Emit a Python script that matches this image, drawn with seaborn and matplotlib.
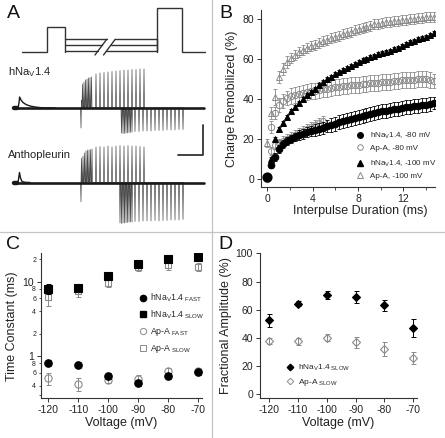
import matplotlib
matplotlib.use('Agg')
import matplotlib.pyplot as plt
from matplotlib.lines import Line2D
from matplotlib.ticker import FixedLocator, FixedFormatter
import seaborn as sns
import pandas as pd

sns.set_theme(style='ticks')
plt.rcParams['font.family'] = ['Liberation Sans', 'DejaVu Sans']
plt.rcParams['mathtext.fontset'] = 'custom'
plt.rcParams['mathtext.rm'] = 'Liberation Sans'
plt.rcParams['mathtext.it'] = 'Liberation Sans:italic'
plt.rcParams['mathtext.bf'] = 'Liberation Sans:bold'
plt.rcParams['axes.unicode_minus'] = False

# ---------------- data ----------------
# A: voltage protocol (panel units) and current traces
prot_main_x = [22, 46.7, 46.7, 65, 65]
prot_main_y = [51.7, 51.7, 26.7, 26.7, 51.5]
prot_levels = [39.3, 45.0, 51.0]
prot_test_x = [156.7, 156.7, 181.7, 181.7, 205]
prot_test_y = [51.0, 8.3, 8.3, 51.7, 51.7]

tr1_base = 108
tr1_start_x = [15, 18, 19, 19.6, 21, 23, 26, 30, 35, 42, 55]
tr1_start_y = [108, 108, 103, 97, 100, 102.5, 104.5, 106, 107, 107.8, 108]
tr1_up_x = [82.5, 84, 85.5, 87, 88.5, 90, 91.5, 96, 100, 104, 108, 112, 116, 120,
            124, 128, 132, 136, 140, 144]
tr1_up_peak = [84, 82, 80, 79, 78, 77.5, 77, 74, 73, 72.5, 72, 71.5, 71, 70.5,
               70, 70, 69.5, 69.5, 69, 69]
tr1_dn_x = [121.5, 123, 124.5, 126, 127.5, 129, 130.5, 132, 135, 139, 143, 147, 151,
            155, 159, 163, 167, 171, 175, 179, 183]
tr1_dn_peak = [133, 133.5, 133.5, 133, 133, 132.5, 132.5, 132, 131.5, 131.5, 131, 131,
               131, 130.5, 130.5, 130.5, 130, 130, 130, 129.5, 129.5]

tr2_base = 182.5
tr2_start_x = [15, 18, 19.5, 20.5, 22, 25, 30]
tr2_start_y = [182.5, 182.5, 172.5, 178, 181.5, 182.3, 182.5]
tr2_up_x = [81.5, 83, 84.5, 86, 87.5, 89, 90.5, 92, 96, 100, 104, 108, 112, 116, 120,
            124, 128, 132, 136, 140, 144]
tr2_up_peak = [158, 156, 153, 151, 150, 150, 149.5, 149, 147, 146.5, 147, 146, 147, 146,
               145.5, 146, 145.5, 146, 146, 146.5, 147]
tr2_dn_x = [120, 121.5, 123, 124.5, 126, 127.5, 129, 130.5, 132, 135, 139, 143, 147, 151,
            155, 159, 163, 167, 171, 175, 179, 183]
tr2_dn_peak = [223, 223.5, 223, 223, 222.5, 222.5, 222, 222, 222, 221.5, 221.5, 221, 221,
               221, 220.5, 221, 220.5, 220.5, 220, 220, 220, 219.5]

# B: charge remobilization vs interpulse duration
t_ms = [0.0, 0.35, 0.7, 1.05, 1.4, 1.75, 2.1, 2.45, 2.8, 3.15, 3.5, 3.85, 4.2, 4.55,
        4.9, 5.25, 5.6, 5.95, 6.3, 6.65, 7.0, 7.35, 7.7, 8.05, 8.4, 8.75, 9.1, 9.45,
        9.8, 10.15, 10.5, 10.85, 11.2, 11.55, 11.9, 12.25, 12.6, 12.95, 13.3, 13.65,
        14.0, 14.35, 14.7]
hna_80 = [1, 7, 11, 15, 17.5, 19, 20, 21, 22, 22.5, 23.5, 24, 24.5, 25, 25.5, 26.5, 27,
          27.5, 28.5, 29, 29.5, 30, 30.5, 31, 31.5, 32, 32.5, 33, 33.5, 34, 34, 34.5,
          35, 35, 35.5, 36, 36, 36.5, 36.5, 37, 37, 37.5, 38]
hna_80_err = [1, 1.5, 2, 2, 2, 2, 2, 2, 2.5, 2.5, 2.5, 2.5, 3, 3, 3, 3, 3.5, 3.5, 3.5,
              3.5, 3.5, 3.5, 3.5, 3.5, 3.5, 3.5, 3.5, 3.5, 3.5, 3.5, 3.5, 3.5, 3.5, 3.5,
              3.5, 3.5, 3.5, 3.5, 3.5, 3.5, 3.5, 3.5, 3]
apa_80 = [0, 26, 33, 37, 39, 40.5, 41.5, 42, 42.5, 43, 43.5, 44, 44, 44.5, 45, 45, 45.5,
          46, 46, 46.5, 46.5, 47, 47, 47, 47.5, 47.5, 48, 48, 48, 48.5, 48.5, 48.5, 49,
          49, 49.5, 49.5, 49.5, 49.5, 50, 50, 50, 49.5, 49]
apa_80_err = [0.5, 3, 3, 3.5, 3.5, 3.5, 4, 4, 4, 4, 4, 4, 4, 4, 4, 4, 4, 4, 4, 4, 4, 4,
              4, 4, 4, 4, 4, 4, 4, 4, 4, 4, 4, 4, 4, 4, 4, 4, 4, 4, 4, 4, 3.5]
hna_100 = [1, 10, 20, 25, 28, 31, 34, 36, 38, 40, 42, 43.5, 45, 47, 48.5, 50, 51, 52.5,
           53.5, 54.5, 55.5, 56.5, 57.5, 58.5, 59.5, 60, 61, 61.5, 62.5, 63, 63.5, 64,
           65, 65.5, 66.5, 67.5, 68.5, 69, 70, 70.5, 71, 72, 73]
hna_100_err = [1] * 43
apa_100 = [18, 33, 41, 51, 55, 58.5, 60.5, 62, 63.5, 64.5, 65.5, 66.5, 67, 68, 69, 69.5,
           70.5, 71, 71.5, 72.5, 73, 73.5, 74.5, 75, 75.5, 76, 76.5, 77.5, 77.5, 78,
           78.5, 78.5, 79, 79, 79.5, 79.5, 80, 80, 80.5, 80.5, 81, 81, 81]
apa_100_err = [2, 3, 4, 3, 3, 3, 2.5, 2.5, 2.5, 2.5, 2.5, 2.5, 2.5, 2.5, 2.5, 2.5, 2.5,
               2.5, 2.5, 2.5, 2.5, 2.5, 2.5, 2.5, 2.5, 2.5, 2.5, 2.5, 2.5, 2.5, 2.5, 2.5,
               2.5, 2.5, 2.5, 2.5, 2.5, 2.5, 2.5, 2.5, 2.5, 2.5, 2.5]
early_t = [0.35, 0.7, 1.05, 1.4, 1.75, 2.1, 2.45, 2.8, 3.15, 3.5, 3.85, 4.2, 4.55, 4.9]
early_grey = [14, 17, 18, 19, 20, 21, 22, 23, 24, 25, 26, 27, 28, 29]
early_grey_err = [2, 2, 2, 2.5, 2.5, 2.5, 2.5, 2.5, 2.5, 2.5, 2.5, 2.5, 2.5, 2.5]

# C and D: voltage dependence
volt = [-120, -110, -100, -90, -80, -70]
hna_fast = [0.81, 0.76, 0.54, 0.44, 0.54, 0.61]
hna_fast_err = [0.07, 0.07, 0.05, 0.04, 0.05, 0.06]
hna_slow = [8.0, 8.2, 11.8, 17.4, 20.4, 21.6]
hna_slow_err = [1.2, 0.7, 1.0, 1.2, 1.5, 1.8]
apa_fast = [0.50, 0.42, 0.47, 0.49, 0.63, 0.62]
apa_fast_err = [0.09, 0.08, 0.04, 0.06, 0.06, 0.07]
apa_slow = [6.2, 7.4, 9.6, 15.6, 17.0, 15.8]
apa_slow_err = [1.5, 1.2, 1.2, 1.5, 2.5, 2.0]

hna_amp = [52.5, 64.3, 70.5, 69, 63, 47]
hna_amp_err = [4.5, 2, 3, 4, 4, 6.5]
apa_amp = [37.6, 37.6, 40, 37, 32, 25.7]
apa_amp_err = [2, 2.5, 2.5, 4, 5, 4.5]

# ---------------- figure ----------------
W, H = 445, 438
fig = plt.figure(figsize=(W / 100, H / 100), dpi=100)
DARK = '#222222'
GREY = '#8a8a8a'


def px_axes(l, t, r, b):
    return fig.add_axes([l / W, 1 - b / H, (r - l) / W, (b - t) / H])


def style_axes(ax):
    sns.despine(ax=ax)
    for s in ['left', 'bottom']:
        ax.spines[s].set_color('#333333')
        ax.spines[s].set_linewidth(0.8)
    ax.tick_params(which='major', direction='out', length=3, width=0.7,
                   color='#333333', labelsize=7.5, labelcolor=DARK, pad=2)
    ax.tick_params(which='minor', direction='out', length=1.8, width=0.6,
                   color='#333333')


def spikes(xs, peaks, base, w=0.5):
    px, py = [], []
    for x, p in zip(xs, peaks):
        px += [x - w, x, x + w]
        py += [base, p, base]
    return px, py


# dividers
fig.add_artist(Line2D([212 / W, 212 / W], [0, 1], color='#c4c4c4', lw=0.9))
fig.add_artist(Line2D([0, 1], [1 - 232 / H, 1 - 232 / H], color='#c4c4c4', lw=0.9))

# ---- Panel A ----
axA = px_axes(0, 0, 212, 232)
axA.set_xlim(0, 212)
axA.set_ylim(232, 0)
axA.axis('off')
pk = dict(color='#333333', lw=1.0, solid_joinstyle='miter')
axA.plot(prot_main_x, prot_main_y, **pk)
axA.plot(prot_test_x, prot_test_y, **pk)
axA.plot([156.7, 156.7], [39.3, 51.7], **pk)
for lv in prot_levels:
    cut1 = 95 + (55 - lv) * 0.745
    axA.plot([65, cut1], [lv, lv], **pk)
    axA.plot([cut1 + 8.5, 156.7], [lv, lv], **pk)
axA.plot([95, 106.7], [55, 39.3], **pk)
axA.plot([103.5, 115.2], [55, 39.3], **pk)

tk = dict(color='#4a4a4a', lw=0.5)
for base, sx, sy, ux, up, dx, dp, art in [
        (tr1_base, tr1_start_x, tr1_start_y, tr1_up_x, tr1_up_peak, tr1_dn_x,
         tr1_dn_peak, (128, 100)),
        (tr2_base, tr2_start_x, tr2_start_y, tr2_up_x, tr2_up_peak, tr2_dn_x,
         tr2_dn_peak, (201.7, 175))]:
    x1, y1 = spikes(ux, up, base)
    axA.plot(x1, y1, **tk)
    x2, y2 = spikes(dx, dp, base)
    axA.plot(x2, y2, **tk)
    axA.plot([80.5, 81, 81.5, 82], [base, art[0], art[1], base], **tk)
    axA.plot([15, 204], [base, base], color='#1a1a1a', lw=1.9)
    axA.plot(sx, sy, color='#1a1a1a', lw=1.0)
    axA.plot([14, 16.5], [base, base], color='#1a1a1a', lw=3.2)
axA.plot([177.5, 202.5, 202.5], [155, 155, 125], color='#333333', lw=1.3)
axA.text(8, 72, r'hNa$_\mathrm{V}$1.4', fontsize=8, color=DARK, va='center')
axA.text(8, 155, 'Anthopleurin', fontsize=8, color=DARK, va='center')

# ---- Panel B ----
axB = px_axes(261, 10, 435, 186.7)
series_B = [
    (early_t, early_grey, early_grey_err, 'o', 'none', GREY, 4.3),
    (t_ms, apa_100, apa_100_err, '^', 'none', GREY, 4.6),
    (t_ms, apa_80, apa_80_err, 'o', 'none', GREY, 4.6),
    (t_ms, hna_100, hna_100_err, '^', 'black', 'black', 4.6),
    (t_ms, hna_80, hna_80_err, 'o', 'black', 'black', 4.8),
]
for i, (x, y, e, m, fc, ec, ms) in enumerate(series_B):
    df = pd.DataFrame({'t': x, 'v': y})
    axB.errorbar(x, y, yerr=e, fmt='none', ecolor=ec, elinewidth=0.6, capsize=1.4,
                 capthick=0.6, zorder=2 + i)
    sns.lineplot(data=df, x='t', y='v', ax=axB, estimator=None, sort=False,
                 linestyle='', marker=m, markersize=ms, markerfacecolor=fc,
                 markeredgecolor=ec, markeredgewidth=0.7, color=ec, zorder=2.5 + i)
axB.scatter([0], [1], s=40, color='black', zorder=9)
axB.set_xlim(-0.56, 14.8)
axB.set_ylim(-3.85, 84.5)
axB.set_xticks([0, 4, 8, 12])
axB.set_xticks([2, 6, 10, 14], minor=True)
axB.set_yticks([0, 20, 40, 60, 80])
style_axes(axB)
axB.set_xlabel('Interpulse Duration (ms)', fontsize=9, color=DARK, labelpad=1)
axB.xaxis.set_label_coords(0.57, -0.105)
axB.set_ylabel('Charge Remobilized (%)', fontsize=9, color=DARK, labelpad=3)

hB1 = [Line2D([], [], ls='', marker='o', color='black', ms=4),
       Line2D([], [], ls='', marker='o', mfc='none', mec=GREY, ms=4, mew=0.7)]
hB2 = [Line2D([], [], ls='', marker='^', color='black', ms=4),
       Line2D([], [], ls='', marker='^', mfc='none', mec=GREY, ms=4, mew=0.7)]
legkw = dict(frameon=False, fontsize=5.8, handlelength=0.8, handletextpad=0.9,
             labelspacing=0.35, borderpad=0, borderaxespad=0, loc='upper left',
             bbox_transform=fig.transFigure)
leg1 = axB.legend(hB1, [r'hNa$_\mathrm{V}$1.4, -80 mV', 'Ap-A, -80 mV'],
                  bbox_to_anchor=(356.5 / W, 1 - 131 / H), **legkw)
axB.add_artist(leg1)
axB.legend(hB2, [r'hNa$_\mathrm{V}$1.4, -100 mV', 'Ap-A, -100 mV'],
           bbox_to_anchor=(356.5 / W, 1 - 159 / H), **legkw)

# ---- Panel C ----
axC = px_axes(40.7, 253.3, 201.7, 398.3)
series_C = [
    (apa_fast, apa_fast_err, 'o', 'none', GREY, 5.2),
    (apa_slow, apa_slow_err, 's', 'none', GREY, 5.0),
    (hna_fast, hna_fast_err, 'o', 'black', 'black', 5.4),
    (hna_slow, hna_slow_err, 's', 'black', 'black', 5.2),
]
for i, (y, e, m, fc, ec, ms) in enumerate(series_C):
    df = pd.DataFrame({'v': volt, 'tau': y})
    axC.errorbar(volt, y, yerr=e, fmt='none', ecolor=ec, elinewidth=0.7, capsize=1.8,
                 capthick=0.7, zorder=2 + i)
    sns.lineplot(data=df, x='v', y='tau', ax=axC, estimator=None, sort=False,
                 linestyle='', marker=m, markersize=ms, markerfacecolor=fc,
                 markeredgecolor=ec, markeredgewidth=0.8, color=ec, zorder=2.5 + i)
axC.set_yscale('log')
axC.set_xlim(-122.5, -68.9)
axC.set_ylim(0.27, 24.1)
axC.set_xticks(volt)
axC.yaxis.set_major_locator(FixedLocator([1, 10]))
axC.yaxis.set_major_formatter(FixedFormatter(['1', '10']))
axC.yaxis.set_minor_locator(FixedLocator([0.3, 0.4, 0.6, 0.8, 2, 4, 6, 8, 20]))
axC.yaxis.set_minor_formatter(FixedFormatter(['', '4', '6', '8', '2', '4', '6', '8', '2']))
style_axes(axC)
axC.tick_params(axis='y', which='minor', labelsize=5, labelcolor=DARK, pad=1.5)
axC.set_xlabel('Voltage (mV)', fontsize=9, color=DARK, labelpad=1)
axC.set_ylabel('Time Constant (ms)', fontsize=9, color=DARK, labelpad=3)
hC = [Line2D([], [], ls='', marker='o', color='black', ms=4.5),
      Line2D([], [], ls='', marker='s', color='black', ms=4.2),
      Line2D([], [], ls='', marker='o', mfc='none', mec=GREY, ms=4.5, mew=0.7),
      Line2D([], [], ls='', marker='s', mfc='none', mec=GREY, ms=4.2, mew=0.7)]
axC.legend(hC, [r'hNa$_\mathrm{V}$1.4$_\mathrm{\ FAST}$', r'hNa$_\mathrm{V}$1.4$_\mathrm{\ SLOW}$',
                r'Ap-A$_\mathrm{\ FAST}$', r'Ap-A$_\mathrm{\ SLOW}$'],
           bbox_to_anchor=(139 / W, 1 - 292 / H),
           **dict(legkw, fontsize=6.3, handletextpad=0.5, labelspacing=0.45))

# ---- Panel D ----
axD = px_axes(260, 253.3, 416.7, 398.3)
series_D = [
    (apa_amp, apa_amp_err, 'D', 'none', GREY, 4.2),
    (hna_amp, hna_amp_err, 'D', 'black', 'black', 4.2),
]
for i, (y, e, m, fc, ec, ms) in enumerate(series_D):
    df = pd.DataFrame({'v': volt, 'amp': y})
    axD.errorbar(volt, y, yerr=e, fmt='none', ecolor=ec, elinewidth=0.7, capsize=1.8,
                 capthick=0.7, zorder=2 + i)
    sns.lineplot(data=df, x='v', y='amp', ax=axD, estimator=None, sort=False,
                 linestyle='', marker=m, markersize=ms, markerfacecolor=fc,
                 markeredgecolor=ec, markeredgewidth=0.8, color=ec, zorder=2.5 + i)
axD.set_xlim(-123.2, -68.8)
axD.set_ylim(-2.8, 100)
axD.set_xticks(volt)
axD.set_yticks([0, 20, 40, 60, 80, 100])
style_axes(axD)
axD.set_xlabel('Voltage (mV)', fontsize=9, color=DARK, labelpad=1)
axD.set_ylabel('Fractional Amplitude (%)', fontsize=9, color=DARK, labelpad=3)
hD = [Line2D([], [], ls='', marker='D', color='black', ms=3.3),
      Line2D([], [], ls='', marker='D', mfc='none', mec=GREY, ms=3.3, mew=0.7)]
axD.legend(hD, [r'hNa$_\mathrm{V}$1.4$_\mathrm{\ SLOW}$', r'Ap-A$_\mathrm{\ SLOW}$'],
           bbox_to_anchor=(287 / W, 1 - 363 / H),
           **dict(legkw, fontsize=6, handletextpad=0.5, labelspacing=0.4))

# panel letters
for letter, x, y in [('A', 7, 5), ('B', 219, 5), ('C', 6, 236), ('D', 218, 236)]:
    fig.text(x / W, 1 - y / H, letter, fontsize=14, color='#111111', va='top', ha='left')

fig.savefig('out.png', dpi=100)
